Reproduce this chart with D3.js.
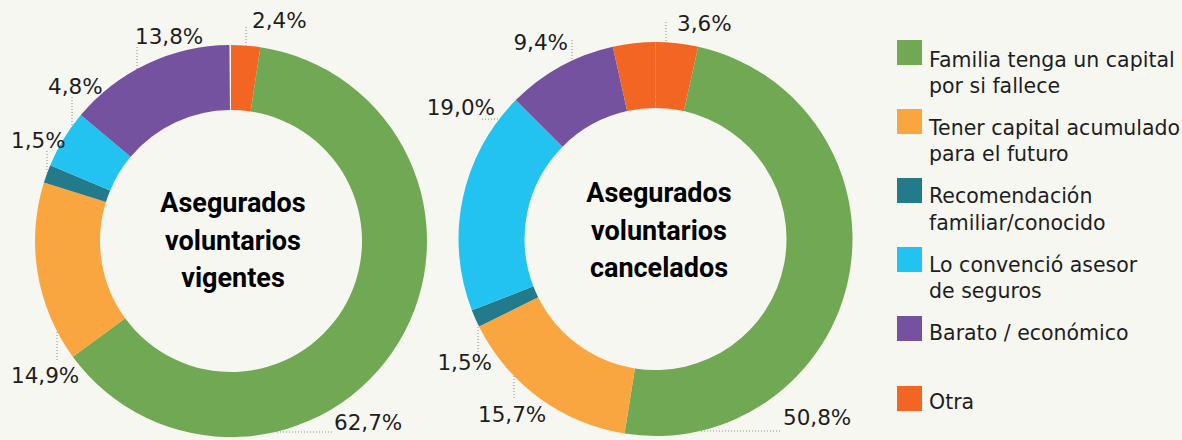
<!DOCTYPE html>
<html>
<head>
<meta charset="utf-8">
<script src="https://cdn.jsdelivr.net/npm/d3@7"></script>
<style>
  html, body { margin: 0; padding: 0; background: #f7f7f2; }
  svg { display: block; }
  .pct { font-family: "DejaVu Sans", sans-serif; font-size: 21.5px; fill: #1e1e1e; }
  .legend text { font-family: "DejaVu Sans", sans-serif; font-size: 20.5px; fill: #1e1e1e; }
  .title { font-family: Roboto, sans-serif; font-weight: 700; font-size: 27px; fill: #000; }
</style>
</head>
<body>
<div id="chart"></div>
<script>
// categorias y colores
const categories = [
    "Familia tenga un capital|por si fallece",
    "Tener capital acumulado|para el futuro",
    "Recomendación|familiar/conocido",
    "Lo convenció asesor|de seguros",
    "Barato / económico",
    "Otra"
];
const colors = ["#71a853", "#f9a640", "#237a8b", "#22c3f1", "#74529f", "#f26522"];

// porcentajes (%)
const vigentes = [62.7, 14.9, 1.5, 4.8, 13.8, 2.4];
const cancelados = [50.8, 15.7, 1.5, 19.0, 9.4, 3.6];

// orden de los trozos en cada dona (el grafico original repite "Otra" en la segunda)
const orderVigentes = [5, 0, 1, 2, 3, 4];
const orderCancelados = [5, 0, 1, 2, 3, 4, 5];

const titleVigentes = ["Asegurados", "voluntarios", "vigentes"];
const titleCancelados = ["Asegurados", "voluntarios", "cancelados"];

const width = 1182, height = 440;

const svg = d3.select("#chart")
    .append("svg")
    .attr("width", width)
    .attr("height", height);

svg.append("rect")
    .attr("width", width)
    .attr("height", height)
    .attr("fill", "#f7f7f2");

const fmt = v => v.toFixed(1).replace(".", ",") + "%";

// donde van las etiquetas (texto + linea punteada)
const labelsLeft = [
    { tx: 334, ty: 430, anchor: "start", dir: "h", at: 432, to: 332 },
    { tx: 11, ty: 383, anchor: "start", dir: "v", at: 57, to: 360 },
    { tx: 11, ty: 148, anchor: "start", dir: "v", at: 47, to: 151 },
    { tx: 48, ty: 94, anchor: "start", dir: "v", at: 72, to: 97 },
    { tx: 135, ty: 44, anchor: "start", dir: "v", at: 137, to: 47 },
    { tx: 252, ty: 28, anchor: "start", dir: "v", at: 246, to: 27 }
];
const labelsRight = [
    { tx: 783, ty: 425, anchor: "start", dir: "h", at: 431, to: 780 },
    { tx: 478, ty: 422, anchor: "start", dir: "v", at: 514, to: 398 },
    { tx: 492, ty: 370, anchor: "end", dir: "v", at: 478, to: 352 },
    { tx: 495, ty: 115, anchor: "end", dir: "h", at: 119, to: 482 },
    { tx: 568, ty: 50, anchor: "end", dir: "v", at: 572, to: 40 },
    { tx: 677, ty: 31, anchor: "start", dir: "v", at: 666, to: 22 }
];

function drawDonut(opts) {
    const { cx, cy, rOuter, rInner, values, order, labels, title, titleY, endAngle } = opts;

    const g = svg.append("g")
        .attr("transform", "translate(" + cx + "," + cy + ")");

    const pie = d3.pie()
        .sort(null)
        .value(d => d.value)
        .startAngle(0)
        .endAngle(endAngle);

    const slices = order.map(i => ({ cat: i, value: values[i] }));

    const arc = d3.arc()
        .innerRadius(rInner)
        .outerRadius(rOuter);

    g.selectAll("path")
        .data(pie(slices))
        .enter()
        .append("path")
        .attr("d", arc)
        .attr("fill", d => colors[d.data.cat]);

    // etiquetas con linea punteada hasta el borde del arco
    categories.forEach((c, i) => {
        const l = labels[i];
        let x1, y1, x2, y2;
        if (l.dir === "v") {
            const dx = l.at - cx;
            const h = Math.sqrt(rOuter * rOuter - dx * dx);
            const yArc = l.to < cy ? cy - h : cy + h;
            x1 = x2 = l.at;
            y1 = l.to;
            y2 = yArc;
        } else {
            const dy = l.at - cy;
            const w = Math.sqrt(rOuter * rOuter - dy * dy);
            const xArc = l.to > cx ? cx + w : cx - w;
            y1 = y2 = l.at;
            x1 = l.to;
            x2 = xArc;
        }
        svg.append("line")
            .attr("x1", x1).attr("y1", y1)
            .attr("x2", x2).attr("y2", y2)
            .attr("stroke", "#8c8c8c")
            .attr("stroke-width", 1)
            .attr("stroke-dasharray", "1,2");
        svg.append("text")
            .attr("class", "pct")
            .attr("x", l.tx)
            .attr("y", l.ty)
            .attr("text-anchor", l.anchor)
            .text(fmt(values[i]));
    });

    // titulo al centro
    title.forEach((t, i) => {
        svg.append("text")
            .attr("class", "title")
            .attr("x", titleY.x)
            .attr("y", titleY.y + i * 37.5)
            .attr("text-anchor", "middle")
            .text(t);
    });
}

drawDonut({
    cx: 231, cy: 241, rOuter: 196, rInner: 131,
    values: vigentes, order: orderVigentes, labels: labelsLeft,
    title: titleVigentes, titleY: { x: 233, y: 212 },
    endAngle: 2 * Math.PI - 0.008
});

drawDonut({
    cx: 655.5, cy: 239, rOuter: 197, rInner: 131,
    values: cancelados, order: orderCancelados, labels: labelsRight,
    title: titleCancelados, titleY: { x: 659, y: 202 },
    endAngle: 2 * Math.PI
});

// leyenda
const legend = svg.append("g").attr("class", "legend");
categories.forEach((c, i) => {
    legend.append("rect")
        .attr("x", 897)
        .attr("y", 40 + i * 69 + (i === 5 ? 1 : 0))
        .attr("width", 25)
        .attr("height", 25)
        .attr("fill", colors[i]);
    const lines = c.split("|");
    const t = legend.append("text")
        .attr("x", 929)
        .attr("y", 66.5 + i * 68.4);
    lines.forEach((ln, j) => {
        t.append("tspan")
            .attr("x", 929)
            .attr("dy", j === 0 ? 0 : 26.5)
            .text(ln);
    });
});
</script>
</body>
</html>
